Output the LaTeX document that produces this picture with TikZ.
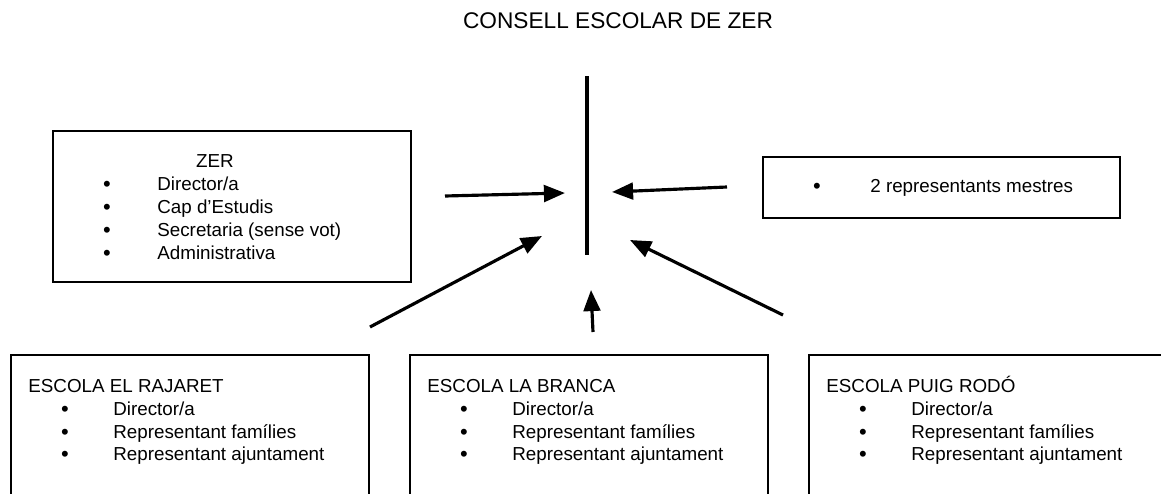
\documentclass[tikz,border=0pt]{standalone}
\usepackage{fontspec}
\setmainfont{Liberation Sans}
\usetikzlibrary{arrows.meta,fit}

\begin{document}
\begin{tikzpicture}[x=0.02cm, y=-0.02cm,
  box/.style = {draw, line width=0.7pt, inner sep=0},
  txt/.style = {anchor=base west, inner sep=0, font=\fontsize{10.7}{13}\selectfont},
  dot/.style = {anchor=base, inner sep=0, font=\fontsize{12.5}{13}\selectfont},
  arr/.style = {line width=1.8pt, -{Triangle[length=12pt, width=9.5pt]}}]
\useasboundingbox (0,0) rectangle (1161,494);
\clip (0,0) rectangle (1161,494);

\node[anchor=base, inner sep=0, font=\fontsize{12.9}{15}\selectfont] (title) at (618,28) {CONSELL ESCOLAR DE ZER};

% ZER
\node[box, fit={(53,131) (411,282)}] (zer) {};
\node[txt, anchor=base] (zername) at (215,167) {ZER};
\foreach \y/\t in {190/{Director/a}, 213/Cap d'Estudis, 236/Secretaria (sense vot), 259/Administrativa} {
  \node[dot] at (107,\y+1) {\textbullet};
  \node[txt] at (157,\y) {\t};
}

% mestres
\node[box, fit={(763,157) (1120,218)}] (mestres) {};
\node[dot] at (817,193) {\textbullet};
\node[txt] at (870,192) {2 representants mestres};

% escoles
\foreach \x/\nom [count=\i] in {0/EL RAJARET, 399/LA BRANCA, 798/PUIG RODÓ} {
  \node[box, fit={(11+\x,355) (369+\x,520)}] (esc\i) {};
  \node[txt] at (28+\x,392) {ESCOLA \nom};
  \foreach \y/\t in {415/{Director/a}, 438/Representant famílies, 460/Representant ajuntament} {
    \node[dot] at (65+\x,\y+1) {\textbullet};
    \node[txt] at (113+\x,\y) {\t};
  }
}

% consell
\coordinate (top) at (587,76);
\coordinate (bot) at (587,255);
\draw[line width=1.8pt] (top) -- (bot);

\coordinate (a1) at (445,196);
\coordinate (b1) at (565,193);
\coordinate (a2) at (727,187);
\coordinate (b2) at (612,192);
\coordinate (a3) at (370,327);
\coordinate (b3) at (542,236);
\coordinate (a4) at (593,332);
\coordinate (b4) at (591,290);
\coordinate (a5) at (783,315);
\coordinate (b5) at (630,240);
\draw[arr] (a1) -- (b1);
\draw[arr] (a2) -- (b2);
\draw[arr] (a3) -- (b3);
\draw[arr] (a4) -- (b4);
\draw[arr] (a5) -- (b5);
\end{tikzpicture}
\end{document}
